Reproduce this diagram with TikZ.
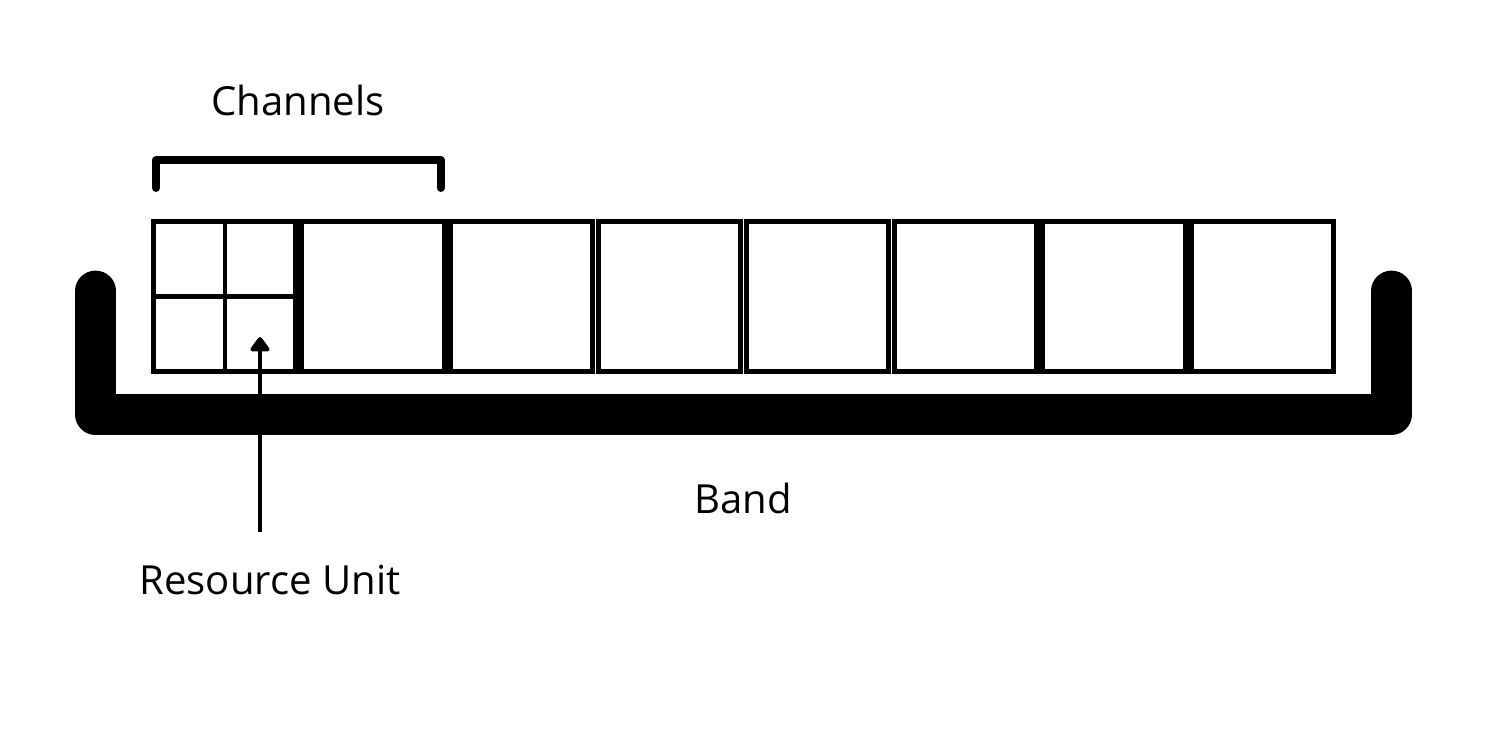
\documentclass[tikz,border=0pt]{standalone}
\usepackage{fontspec}
\setmainfont{Open Sans}
\usetikzlibrary{positioning,arrows.meta}

\tikzset{
  chan/.style={draw, line width=3pt, minimum width=2.848cm, minimum height=3cm, inner sep=0pt},
  label/.style={font=\fontsize{22.8}{27}\selectfont, inner sep=0pt},
  bracket/.style={line width=4.5pt, line cap=round, line join=round},
  band/.style={line width=23.2pt, line cap=round, line join=round},
}

\begin{document}
\begin{tikzpicture}[x=0.2mm, y=-0.2mm]
\useasboundingbox (0,0) rectangle (1500,750);
% channels
\node (ch1) [chan] at (224.8,296.5) {};
\node (ch2) [chan, right=0.3pt of ch1] {};
\node (ch3) [chan, right=0.3pt of ch2] {};
\node (ch4) [chan, right=0.3pt of ch3] {};
\node (ch5) [chan, right=0.3pt of ch4] {};
\node (ch6) [chan, right=0.3pt of ch5] {};
\node (ch7) [chan, right=0.3pt of ch6] {};
\node (ch8) [chan, right=0.3pt of ch7] {};
% resource units in the first channel
\draw[line width=2.6pt] ([yshift=-1.5pt]ch1.north) -- ([yshift=1.5pt]ch1.south);
\draw[line width=2.6pt] ([xshift=1.5pt]ch1.west) -- ([xshift=-1.5pt]ch1.east);
% bracket over two channels
\node (chans) [label] at (298,100) {Channels};
\draw[bracket] (156,188) -- (156,160) -- (440.7,160) -- (440.7,188);
% band
\draw[band] (95.5,291) -- (95.5,414.5) -- (1391.5,414.5) -- (1391.5,291);
\node (band) [label] at (743,498) {Band};
% resource unit
\node (ru) [label] at (270,580) {Resource Unit};
\coordinate (ru tip) at (260,337);
\coordinate (ru end) at (260,532);
\draw[line width=2.3pt, -{Triangle[width=12.5pt, length=9pt, round]}] (ru end) -- (ru tip);
\end{tikzpicture}
\end{document}
